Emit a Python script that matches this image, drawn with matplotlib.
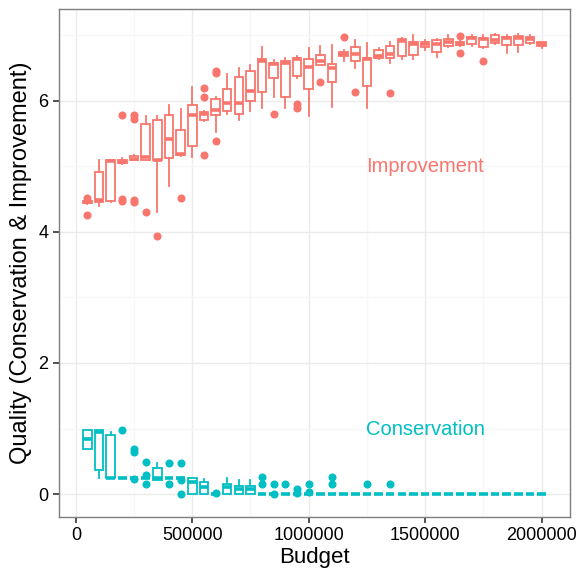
"""Quality vs budget boxplots (conservation and improvement)."""

import matplotlib

matplotlib.use("Agg")
import matplotlib.pyplot as plt
from matplotlib.ticker import MultipleLocator

plt.rcParams["font.family"] = ["Liberation Sans", "DejaVu Sans"]

budgets = [50000 * (i + 1) for i in range(40)]

# improvement: whislo, q1, med, q3, whishi
imp_stats = [
    (4.43, 4.44, 4.45, 4.47, 4.48),
    (4.39, 4.46, 4.48, 4.92, 5.10),
    (4.45, 4.47, 5.08, 5.10, 5.10),
    (5.04, 5.05, 5.07, 5.10, 5.12),
    (5.09, 5.10, 5.11, 5.15, 5.17),
    (5.09, 5.10, 5.14, 5.64, 5.77),
    (4.31, 5.09, 5.10, 5.70, 5.77),
    (4.70, 5.13, 5.41, 5.79, 5.94),
    (5.15, 5.17, 5.19, 5.56, 5.87),
    (5.14, 5.31, 5.79, 5.94, 6.21),
    (5.69, 5.70, 5.80, 5.83, 5.85),
    (5.53, 5.79, 5.86, 6.02, 6.05),
    (5.80, 5.84, 5.97, 6.18, 6.41),
    (5.70, 5.80, 5.96, 6.36, 6.50),
    (5.84, 5.99, 6.15, 6.46, 6.55),
    (5.89, 6.14, 6.60, 6.63, 6.82),
    (6.06, 6.34, 6.56, 6.58, 6.62),
    (5.89, 6.05, 6.58, 6.60, 6.65),
    (6.34, 6.38, 6.63, 6.65, 6.68),
    (5.76, 6.18, 6.51, 6.63, 6.80),
    (6.54, 6.55, 6.61, 6.70, 6.83),
    (5.91, 6.28, 6.50, 6.56, 6.85),
    (6.61, 6.69, 6.72, 6.75, 6.78),
    (6.50, 6.61, 6.72, 6.82, 6.92),
    (5.89, 6.22, 6.63, 6.66, 6.88),
    (6.63, 6.65, 6.69, 6.77, 6.80),
    (6.58, 6.66, 6.71, 6.84, 6.90),
    (6.63, 6.69, 6.91, 6.94, 6.96),
    (6.64, 6.70, 6.87, 6.90, 7.01),
    (6.78, 6.82, 6.86, 6.90, 6.92),
    (6.67, 6.75, 6.87, 6.92, 6.94),
    (6.82, 6.84, 6.89, 6.94, 7.01),
    (6.84, 6.85, 6.87, 6.90, 6.92),
    (6.83, 6.87, 6.95, 6.97, 7.01),
    (6.80, 6.82, 6.94, 6.96, 7.01),
    (6.86, 6.88, 6.92, 7.01, 7.02),
    (6.73, 6.85, 6.95, 6.97, 7.01),
    (6.74, 6.85, 6.96, 6.99, 7.02),
    (6.86, 6.88, 6.94, 6.98, 7.01),
    (6.81, 6.84, 6.87, 6.90, 6.90),
]
imp_outliers = {
    50000: [4.51, 4.25],
    200000: [5.79, 4.47, 4.50],
    250000: [5.79, 5.72, 4.48, 4.45],
    300000: [4.30],
    350000: [3.94],
    450000: [4.52],
    550000: [6.20, 6.06, 5.18],
    600000: [6.45, 6.42, 5.38],
    850000: [5.80],
    950000: [5.95, 5.89],
    1050000: [6.28],
    1150000: [6.97],
    1200000: [6.13],
    1350000: [6.12],
    1650000: [6.99, 6.73],
    1750000: [6.61],
}

# conservation: first 15 budgets have real boxes, the rest sit at 0
con_stats = [
    (0.68, 0.68, 0.84, 0.97, 0.97),
    (0.24, 0.36, 0.95, 0.98, 0.98),
    (0.24, 0.24, 0.25, 0.90, 0.95),
    (0.25, 0.25, 0.25, 0.25, 0.25),
    (0.24, 0.24, 0.24, 0.24, 0.24),
    (0.24, 0.24, 0.24, 0.24, 0.24),
    (0.21, 0.22, 0.24, 0.39, 0.48),
    (0.24, 0.24, 0.24, 0.24, 0.24),
    (0.24, 0.24, 0.24, 0.24, 0.24),
    (0.00, 0.00, 0.18, 0.24, 0.24),
    (0.00, 0.00, 0.11, 0.18, 0.23),
    (0.00, 0.00, 0.00, 0.00, 0.00),
    (0.00, 0.00, 0.11, 0.16, 0.24),
    (0.00, 0.00, 0.07, 0.13, 0.22),
    (0.00, 0.00, 0.07, 0.13, 0.22),
] + [(0.0, 0.0, 0.0, 0.0, 0.0)] * 25
con_outliers = {
    200000: [0.97],
    250000: [0.68, 0.64, 0.235],
    300000: [0.49, 0.29, 0.16],
    400000: [0.48, 0.16],
    450000: [0.48, 0.21, 0.0],
    600000: [0.02],
    800000: [0.26, 0.16],
    850000: [0.16, 0.005],
    900000: [0.16],
    950000: [0.07, 0.01],
    1000000: [0.16, 0.03],
    1100000: [0.26, 0.16],
    1250000: [0.16],
    1350000: [0.16],
}

IMP_COLOR = "#F8766D"
CON_COLOR = "#00BFC4"


def _bxp_stats(stats, outliers):
    out = []
    for b, (lo, q1, med, q3, hi) in zip(budgets, stats):
        out.append(
            {
                "whislo": lo,
                "q1": q1,
                "med": med,
                "q3": q3,
                "whishi": hi,
                "fliers": outliers.get(b, []),
            }
        )
    return out


def _draw(ax, stats, outliers, color):
    lw = 1.3
    ax.bxp(
        _bxp_stats(stats, outliers),
        positions=budgets,
        widths=37000,
        showcaps=False,
        patch_artist=True,
        manage_ticks=False,
        boxprops=dict(facecolor="white", edgecolor=color, linewidth=lw),
        whiskerprops=dict(color=color, linewidth=lw),
        medianprops=dict(color=color, linewidth=lw * 2, solid_capstyle="butt"),
        flierprops=dict(
            marker="o",
            markerfacecolor=color,
            markeredgecolor=color,
            markersize=4.8,
            linestyle="none",
        ),
        zorder=3,
    )


fig = plt.figure(figsize=(5.79, 5.72), dpi=100, facecolor="white")
ax = fig.add_axes([59 / 579, 55 / 572, 511 / 579, 508 / 572])

_draw(ax, imp_stats, imp_outliers, IMP_COLOR)
_draw(ax, con_stats, con_outliers, CON_COLOR)

ax.text(1500000, 5.0, "Improvement", color=IMP_COLOR, fontsize=14.5,
        ha="center", va="center")
ax.text(1500000, 0.98, "Conservation", color=CON_COLOR, fontsize=14.5,
        ha="center", va="center")

ax.set_xlim(-72250, 2122250)
ax.set_ylim(-0.35, 7.40)
ax.xaxis.set_minor_locator(MultipleLocator(250000))
ax.yaxis.set_major_locator(MultipleLocator(2))
ax.yaxis.set_minor_locator(MultipleLocator(1))
ax.set_xticks([0, 500000, 1000000, 1500000, 2000000])
ax.set_xticklabels(["0", "500000", "1000000", "1500000", "2000000"])

ax.grid(True, which="major", color="#EBEBEB", linewidth=1.0, zorder=0)
ax.grid(True, which="minor", color="#F7F7F7", linewidth=1.0, zorder=0)
ax.set_axisbelow(True)
ax.tick_params(which="major", length=4.5, width=1.1, color="#222222",
               labelsize=13, labelcolor="black", pad=3)
ax.tick_params(which="minor", length=0)
for sp in ax.spines.values():
    sp.set_color("#7F7F7F")
    sp.set_linewidth(1.0)

ax.set_xlabel("Budget", fontsize=16, labelpad=2)
ax.set_ylabel("Quality (Conservation & Improvement)", fontsize=17, labelpad=5)

fig.savefig("out.png", dpi=100, facecolor="white")
